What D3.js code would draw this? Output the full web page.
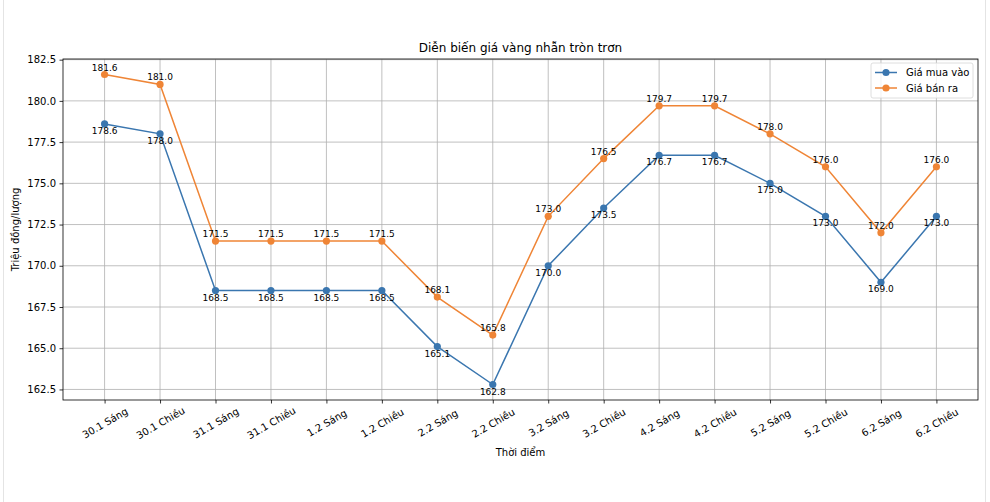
<!DOCTYPE html>
<html><head><meta charset="utf-8">
<script src="https://cdn.jsdelivr.net/npm/d3@7"></script>
<style>body{margin:0;background:#fff;} text{font-family:"DejaVu Sans",sans-serif;fill:#000;}</style>
</head><body>
<svg id="c" width="990" height="502"></svg>
<script>
const categories = ["30.1 Sáng","30.1 Chiều","31.1 Sáng","31.1 Chiều","1.2 Sáng","1.2 Chiều","2.2 Sáng","2.2 Chiều","3.2 Sáng","3.2 Chiều","4.2 Sáng","4.2 Chiều","5.2 Sáng","5.2 Chiều","6.2 Sáng","6.2 Chiều"];
const buyValues = [178.6,178.0,168.5,168.5,168.5,168.5,165.1,162.8,170.0,173.5,176.7,176.7,175.0,173.0,169.0,173.0];
const sellValues = [181.6,181.0,171.5,171.5,171.5,171.5,168.1,165.8,173.0,176.5,179.7,179.7,178.0,176.0,172.0,176.0];
const yTicks = [162.5,165.0,167.5,170.0,172.5,175.0,177.5,180.0,182.5];
const seriesNames = ["Giá mua vào","Giá bán ra"];
const colors = ["#3a76af","#ef8536"];

const svg = d3.select("#c");
const L=63, R=978, T=59, B=400;
// page frame lines
svg.append("line").attr("x1",3.5).attr("x2",3.5).attr("y1",0).attr("y2",502).attr("stroke","#e4e4e4");
svg.append("line").attr("x1",985.5).attr("x2",985.5).attr("y1",0).attr("y2",502).attr("stroke","#e4e4e4");

const allV = buyValues.concat(sellValues);
const mn = d3.min(allV), mx = d3.max(allV), pad=(mx-mn)*0.05;
const y = d3.scaleLinear().domain([mn-pad, mx+pad]).range([B,T]);
const n = categories.length;
const x = d3.scaleLinear().domain([-0.75, n-1+0.75]).range([L,R]);

const g = svg.append("g");
// grid
g.selectAll(".gy").data(yTicks).enter().append("line")
  .attr("x1",L).attr("x2",R).attr("y1",d=>y(d)).attr("y2",d=>y(d))
  .attr("stroke","#b0b0b0").attr("stroke-width",0.8);
g.selectAll(".gx").data(categories).enter().append("line")
  .attr("x1",(d,i)=>x(i)).attr("x2",(d,i)=>x(i)).attr("y1",T).attr("y2",B)
  .attr("stroke","#b0b0b0").attr("stroke-width",0.8);

// axes
const ya = d3.axisLeft(y).tickValues(yTicks).tickFormat(d3.format(".1f")).tickSize(3.5).tickPadding(3.5);
const yg = svg.append("g").attr("transform",`translate(${L},0)`).call(ya);
yg.select(".domain").remove();
yg.selectAll("text").style("font-size","10px").style("font-family","DejaVu Sans");
yg.selectAll("line").attr("stroke","#000").attr("stroke-width",0.8);

const xa = d3.axisBottom(x).tickValues(d3.range(n)).tickFormat(i=>categories[i]).tickSize(3.5);
const xg = svg.append("g").attr("transform",`translate(0,${B})`).call(xa);
xg.select(".domain").remove();
xg.selectAll("line").attr("stroke","#000").attr("stroke-width",0.8);
xg.selectAll("text").style("font-size","10px").style("font-family","DejaVu Sans")
  .attr("text-anchor","middle").attr("dy",null).attr("y",null)
  .attr("dominant-baseline","central")
  .attr("transform","translate(0,23) rotate(-30)");

// spines
svg.append("rect").attr("x",L).attr("y",T).attr("width",R-L).attr("height",B-T)
  .attr("fill","none").attr("stroke","#000").attr("stroke-width",0.8);

// lines
const series = [buyValues, sellValues];
series.forEach((vals,si)=>{
  const line = d3.line().x((d,i)=>x(i)).y(d=>y(d));
  svg.append("path").datum(vals).attr("d",line).attr("fill","none")
    .attr("stroke",colors[si]).attr("stroke-width",1.5);
  svg.selectAll(null).data(vals).enter().append("circle")
    .attr("cx",(d,i)=>x(i)).attr("cy",d=>y(d)).attr("r",3.6).attr("fill",colors[si]);
});
// annotations
svg.selectAll(null).data(buyValues).enter().append("text")
  .attr("x",(d,i)=>x(i)).attr("y",d=>y(d)+10).attr("text-anchor","middle")
  .style("font-size","9px").text(d=>d.toFixed(1));
svg.selectAll(null).data(sellValues).enter().append("text")
  .attr("x",(d,i)=>x(i)).attr("y",d=>y(d)-4).attr("text-anchor","middle")
  .style("font-size","9px").text(d=>d.toFixed(1));

// title and labels
svg.append("text").attr("x",(L+R)/2).attr("y",52).attr("text-anchor","middle")
  .style("font-size","12px").text("Diễn biến giá vàng nhẫn tròn trơn");
svg.append("text").attr("x",(L+R)/2).attr("y",456).attr("text-anchor","middle")
  .style("font-size","10px").text("Thời điểm");
svg.append("text").attr("transform",`translate(19,${(T+B)/2}) rotate(-90)`).attr("text-anchor","middle")
  .style("font-size","10px").text("Triệu đồng/lượng");

// legend
const lg = svg.append("g").attr("transform","translate(871,63)");
lg.append("rect").attr("x",0).attr("y",0).attr("width",102).attr("height",35).attr("rx",2)
  .attr("fill","#fff").attr("fill-opacity",0.8).attr("stroke","#d6d6d6").attr("stroke-width",0.8);
seriesNames.forEach((nm,i)=>{
  const yy = 9.5 + i*15.5;
  lg.append("line").attr("x1",4).attr("x2",26).attr("y1",yy).attr("y2",yy).attr("stroke",colors[i]).attr("stroke-width",1.5);
  lg.append("circle").attr("cx",15).attr("cy",yy).attr("r",3.6).attr("fill",colors[i]);
  lg.append("text").attr("x",35).attr("y",yy).attr("dominant-baseline","central").style("font-size","10px").text(nm);
});
</script>
</body></html>
